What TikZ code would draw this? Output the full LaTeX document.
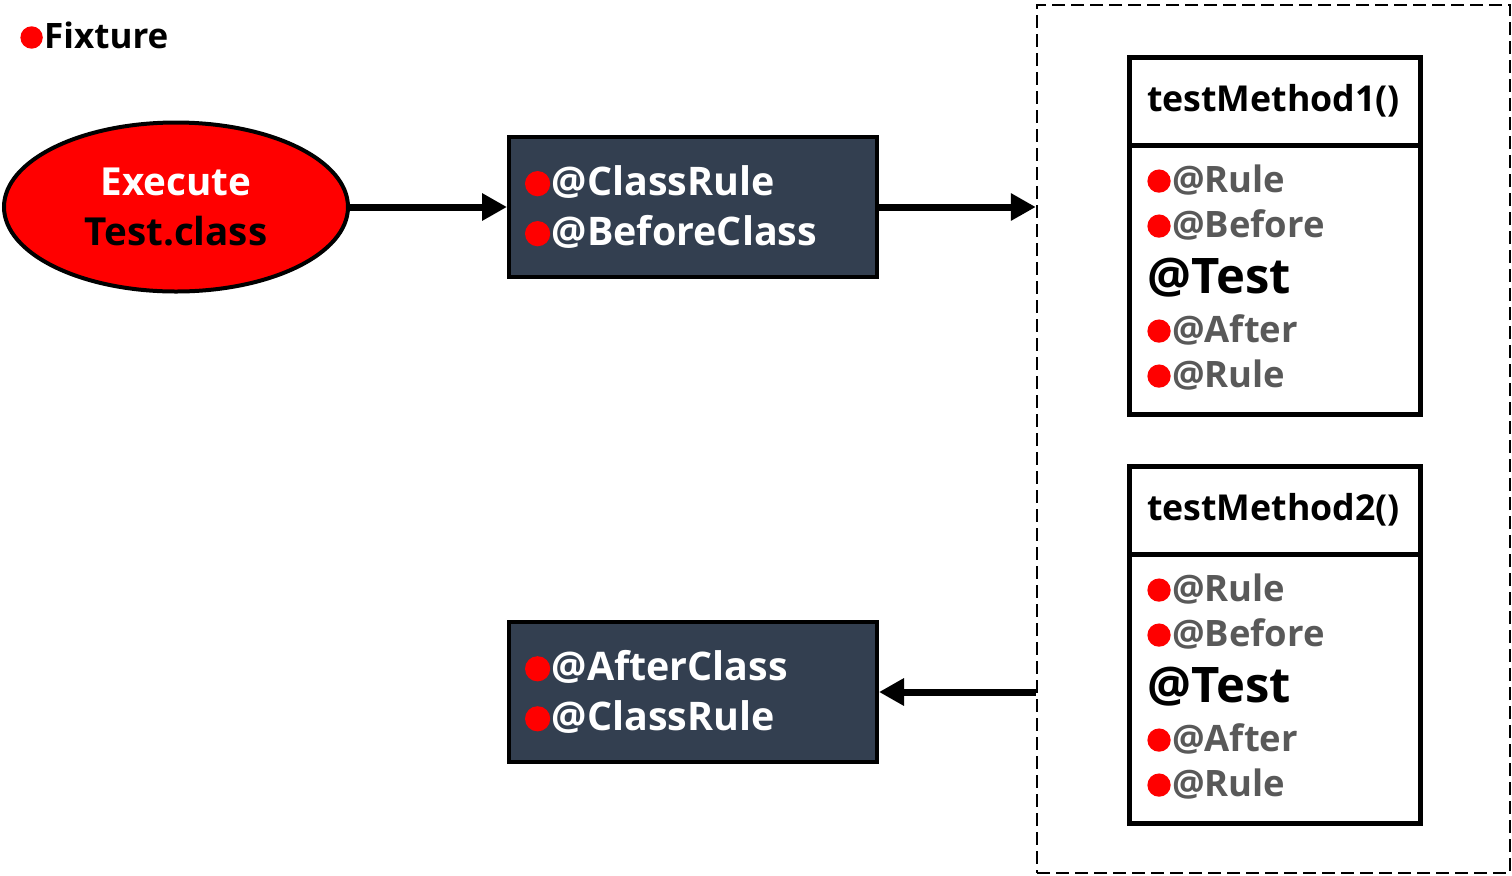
\documentclass[tikz,border=0pt]{standalone}
\usepackage{fontspec}
\setmainfont{Open Sans}
\usetikzlibrary{positioning,shapes.geometric,arrows.meta}
\definecolor{slate}{HTML}{333F50}
\definecolor{rulegray}{HTML}{595959}
\newcommand{\fx}{\tikz[baseline=0pt]\fill[red] (0,0.3em) circle (0.32em);\kern0.04em}
\tikzset{
  flow/.style={line width=3.5pt,-{Triangle[length=12.5pt,width=13pt]}},
  classbox/.style={draw,fill=slate,line width=2pt,minimum width=184pt,minimum height=70pt,
    inner xsep=8pt,text width=168pt,align=left,text=white,
    font=\bfseries\fontsize{19.7}{25}\selectfont},
  headbox/.style={draw,line width=2.5pt,outer sep=0pt,minimum width=145.25pt,minimum height=43.75pt,
    inner xsep=8.75pt,text width=127.75pt,align=left,font=\bfseries\fontsize{17.85}{20}\selectfont},
  bodybox/.style={draw,line width=2.5pt,outer sep=0pt,minimum width=145.25pt,minimum height=134.75pt},
  fixline/.style={anchor=base west,inner sep=0pt,text=rulegray,font=\bfseries\fontsize{18.2}{20}\selectfont},
  testline/.style={anchor=base west,inner sep=0pt,font=\bfseries\fontsize{24.5}{28}\selectfont}
}

\begin{document}
\begin{tikzpicture}[x=0.5pt,y=-0.5pt]
  \useasboundingbox (0,0) rectangle (1512,875);

  % legend
  \node[anchor=base west,inner sep=0pt,font=\bfseries\fontsize{17.5}{20}\selectfont] (legend) at (20,48) {\fx Fixture};

  % class level
  \node[ellipse,draw,fill=red,line width=2pt,minimum width=172pt,minimum height=84.5pt,
    align=center,font=\bfseries\fontsize{19.3}{25}\selectfont] (exec) at (176,207)
    {\textcolor{white}{Execute}\\Test.class};
  \node[classbox] (before) at (693,207) {\fx@ClassRule\\\fx@BeforeClass};
  \node[classbox] (after) at (693,692) {\fx@AfterClass\\\fx@ClassRule};

  % methods
  \node[draw,dashed,line width=1.2pt,dash pattern=on 6.5pt off 3pt,minimum width=236.5pt,minimum height=434pt] (loop) at (1273.5,439) {};
  \foreach \i/\dy in {1/0,2/409} {
    \node[headbox] (m\i) at (1274.75,101.25+\dy) {testMethod\i()};
    \node[bodybox,below=0pt of m\i] (b\i) {};
    \node[fixline] (b\i r1) at (1147,192+\dy) {\fx@Rule};
    \node[fixline] (b\i r2) at (1147,237+\dy) {\fx@Before};
    \node[testline] (b\i t) at (1147,293+\dy) {@Test};
    \node[fixline] (b\i r3) at (1147,342+\dy) {\fx@After};
    \node[fixline] (b\i r4) at (1147,387+\dy) {\fx@Rule};
  }

  \coordinate (in) at (loop.west |- before);
  \coordinate (out) at (loop.west |- after);
  \draw[flow] (exec) -- (before);
  \draw[flow] (before) -- (in);
  \draw[flow] (out) -- (after);
\end{tikzpicture}
\end{document}
